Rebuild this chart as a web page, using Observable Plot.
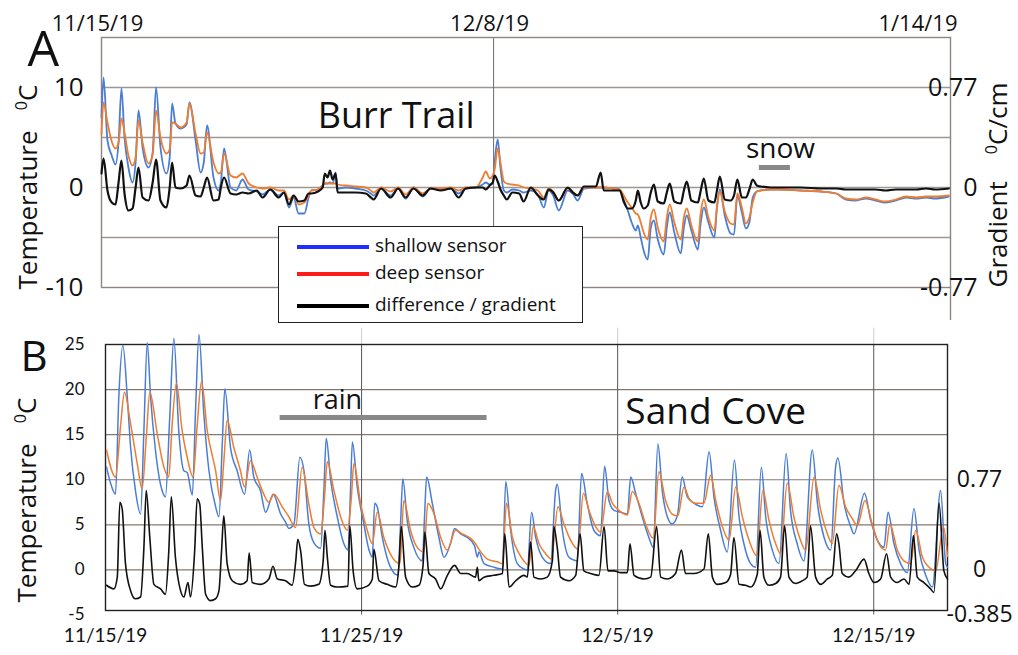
<!DOCTYPE html>
<html>
<head>
<meta charset="utf-8">
<script src="https://cdn.jsdelivr.net/npm/d3@7"></script>
<script src="https://cdn.jsdelivr.net/npm/@observablehq/plot@0.6"></script>
<style>
html,body{margin:0;padding:0;background:#fff;}
#wrap{position:relative;width:1018px;height:655px;overflow:hidden;font-family:"Open Sans",sans-serif;color:#111;}
#wrap svg{position:absolute;left:0;overflow:visible;}
.ylab{position:absolute;transform:translate(-50%,-50%) rotate(-90deg);white-space:nowrap;font-size:26px;line-height:1;}
.ylab sup{font-size:0.62em;vertical-align:0.6em;line-height:0;}
#legend{position:absolute;left:278px;top:226px;width:305px;height:97px;box-sizing:border-box;border:1.5px solid #222;background:#fff;z-index:5;}
.lgsw{position:absolute;left:18px;width:72px;height:3.5px;}
.lgtx{position:absolute;left:96px;font-size:19px;line-height:19px;white-space:nowrap;}
</style>
</head>
<body>
<div id="wrap"></div>
<script>
// ---------- Panel A: Burr Trail (x = days since 11/15/19, y = °C) ----------
const aShallow = [[0,7.0],[0.12,11.0],[0.35,4.7],[0.6,3.2],[0.82,2.3],[1.0,4.5],[1.17,9.9],[1.35,5.0],[1.58,2.0],[1.82,0.5],[2.0,2.5],[2.17,7.7],[2.41,4.0],[2.76,2.0],[3.0,3.5],[3.2,10.0],[3.46,4.0],[3.81,1.4],[4.0,3.0],[4.14,8.4],[4.34,6.4],[4.64,5.9],[4.99,6.3],[5.16,8.5],[5.52,4.7],[5.81,1.5],[6.0,2.5],[6.19,6.2],[6.57,1.0],[6.87,-0.3],[7.0,0.5],[7.19,3.9],[7.57,0.0],[7.9,-0.3],[8.27,0.8],[8.63,-0.2],[9.1,-0.4],[9.45,-0.7],[9.9,-0.2],[10.4,-0.8],[10.7,-0.5],[11.0,-2.0],[11.27,-1.0],[11.56,-2.6],[11.9,-2.6],[12.15,-1.0],[12.3,-0.3],[12.7,-0.2],[12.97,0.2],[13.1,0.4],[13.26,0.4],[13.4,0.5],[13.56,0.4],[13.73,1.5],[13.85,-0.1],[14.3,0.0],[14.9,-0.1],[15.5,-0.3],[15.8,-0.6],[15.96,-0.8],[16.4,-0.1],[16.96,-0.8],[17.4,-0.1],[17.84,-1.1],[18.3,0.0],[18.84,-0.9],[19.3,-0.1],[19.9,-0.2],[20.5,-0.1],[20.95,-0.6],[21.36,-0.1],[21.95,0.0],[22.36,0.3],[22.54,0.5],[22.77,0.3],[22.95,0.5],[23.06,2.5],[23.24,4.8],[23.4,2.0],[23.6,-0.3],[23.77,-0.5],[24.1,-0.2],[24.5,-0.3],[24.76,-0.5],[25.18,-0.3],[25.6,-0.7],[25.94,-2.0],[26.23,-0.3],[26.5,-0.8],[26.82,-2.3],[27.35,-0.3],[27.64,-0.6],[27.93,-1.3],[28.3,-0.1],[29.0,0.0],[29.28,0.0],[29.46,0.0],[30.0,-0.1],[30.4,-0.2],[30.63,-1.2],[30.87,-2.3],[31.1,-3.5],[31.34,-4.3],[31.46,-3.8],[31.63,-5.0],[31.8,-6.3],[32.04,-7.2],[32.22,-4.0],[32.4,-3.3],[32.63,-5.2],[32.98,-6.7],[33.16,-4.0],[33.33,-2.5],[33.6,-4.5],[33.98,-6.6],[34.16,-4.0],[34.33,-2.8],[34.6,-4.3],[34.98,-6.2],[35.15,-3.5],[35.33,-2.0],[35.6,-3.5],[35.95,-5.0],[36.1,-2.0],[36.27,-0.2],[36.56,-2.8],[36.9,-4.6],[37.1,-4.7],[37.3,-0.8],[37.56,-2.5],[37.8,-4.1],[38.0,-3.5],[38.2,-1.0],[38.44,-0.4],[38.67,-0.3],[39.26,-0.2],[39.85,-0.2],[41.0,-0.3],[42.2,-0.4],[43.1,-0.6],[43.66,-1.2],[44.25,-1.3],[44.84,-1.1],[45.4,-1.3],[46.0,-1.5],[46.6,-1.3],[47.2,-1.0],[47.8,-1.1],[48.36,-1.0],[48.9,-1.1],[49.7,-0.9]];
const aDeep = [[0,5.3],[0.12,8.5],[0.35,6.5],[0.6,4.6],[0.82,3.9],[1.0,4.5],[1.17,6.9],[1.35,5.5],[1.58,3.2],[1.82,2.2],[2.0,3.0],[2.17,6.7],[2.41,4.5],[2.76,2.4],[3.0,3.3],[3.2,7.7],[3.46,5.0],[3.81,3.4],[4.0,3.8],[4.14,6.5],[4.34,6.4],[4.64,6.0],[4.99,6.5],[5.16,8.4],[5.52,5.4],[5.81,3.4],[6.0,3.5],[6.19,5.5],[6.57,2.5],[6.87,1.4],[7.0,1.5],[7.19,3.4],[7.57,1.2],[7.9,1.0],[8.27,1.4],[8.63,0.4],[9.1,0.0],[9.45,-0.1],[9.9,0.0],[10.4,-0.3],[10.7,-0.3],[11.0,-1.2],[11.27,-0.8],[11.56,-1.7],[11.9,-1.5],[12.15,-0.8],[12.3,-0.3],[12.7,-0.2],[12.97,0.2],[13.1,0.4],[13.26,0.4],[13.4,0.4],[13.56,0.4],[13.73,0.4],[13.85,0.3],[14.3,0.2],[14.9,0.1],[15.5,0.0],[15.8,-0.3],[15.96,-0.5],[16.4,0.0],[16.96,-0.4],[17.4,0.0],[17.84,-0.7],[18.3,0.0],[18.84,-0.6],[19.3,-0.1],[19.9,-0.1],[20.5,0.0],[20.95,-0.3],[21.36,0.0],[21.95,0.0],[22.36,1.0],[22.54,1.6],[22.77,0.9],[22.95,1.2],[23.06,1.8],[23.24,3.9],[23.4,2.5],[23.6,0.6],[23.77,0.4],[24.1,0.3],[24.5,0.2],[24.76,0.0],[25.18,-0.1],[25.6,-0.3],[25.94,-1.0],[26.23,-0.1],[26.5,-0.4],[26.82,-1.3],[27.35,-0.1],[27.64,-0.4],[27.93,-0.8],[28.3,0.0],[29.0,0.0],[29.28,0.0],[29.46,0.0],[30.0,-0.1],[30.4,-0.2],[30.63,-0.8],[30.87,-1.5],[31.1,-2.0],[31.34,-2.6],[31.46,-2.7],[31.63,-3.5],[31.8,-4.5],[32.04,-5.2],[32.22,-3.0],[32.4,-2.2],[32.63,-4.0],[32.98,-5.4],[33.16,-3.0],[33.33,-1.7],[33.6,-3.5],[33.98,-5.2],[34.16,-3.0],[34.33,-2.1],[34.6,-3.8],[34.98,-5.4],[35.15,-2.5],[35.33,-1.2],[35.6,-3.0],[35.95,-4.3],[36.1,-2.0],[36.27,-0.4],[36.56,-2.4],[36.9,-3.6],[37.1,-3.7],[37.3,-0.6],[37.56,-2.0],[37.8,-3.6],[38.0,-3.0],[38.2,-1.5],[38.44,-0.4],[38.67,-0.3],[39.26,-0.2],[39.85,-0.2],[41.0,-0.3],[42.2,-0.4],[43.1,-0.6],[43.66,-1.1],[44.25,-1.2],[44.84,-1.0],[45.4,-1.2],[46.0,-1.4],[46.6,-1.2],[47.2,-0.9],[47.8,-1.0],[48.36,-0.9],[48.9,-0.9],[49.7,-0.8]];
const aDiff = [[0,1.4],[0.12,2.9],[0.35,-0.3],[0.6,-1.5],[0.82,-1.7],[1.0,0.5],[1.17,2.7],[1.35,-0.6],[1.58,-2.3],[1.82,-2.1],[2.0,0.0],[2.17,2.0],[2.41,-1.0],[2.76,-1.3],[3.0,0.5],[3.2,2.8],[3.46,-1.3],[3.81,-2.0],[4.0,0.0],[4.14,2.5],[4.34,0.0],[4.64,-0.1],[4.99,0.2],[5.16,1.2],[5.52,-0.8],[5.81,-0.9],[6.0,0.0],[6.19,1.0],[6.57,-1.3],[6.87,-1.2],[7.0,0.0],[7.19,1.0],[7.57,-0.6],[7.9,-0.7],[8.27,-0.5],[8.63,-0.6],[9.1,-0.3],[9.45,-1.0],[9.9,-0.2],[10.4,-1.0],[10.7,-0.5],[11.0,-1.7],[11.27,-0.8],[11.56,-1.4],[11.9,-1.3],[12.15,-0.6],[12.3,-0.6],[12.7,-0.4],[12.97,0.0],[13.1,1.4],[13.26,1.0],[13.4,1.7],[13.56,0.8],[13.73,1.4],[13.85,-0.5],[14.3,-0.5],[14.9,-0.5],[15.5,-0.6],[15.8,-1.0],[15.96,-1.2],[16.4,-0.1],[16.96,-1.0],[17.4,-0.1],[17.84,-1.0],[18.3,-0.1],[18.84,-0.8],[19.3,-0.1],[19.9,-0.3],[20.5,-0.1],[20.95,-1.0],[21.36,-0.1],[21.95,0.0],[22.36,0.0],[22.54,-0.2],[22.77,0.2],[22.95,0.5],[23.06,1.2],[23.24,0.6],[23.4,-0.2],[23.6,-0.8],[23.77,-1.2],[24.1,-0.5],[24.5,-0.6],[24.76,-1.4],[25.18,0.0],[25.6,-0.8],[25.94,-1.2],[26.23,-0.2],[26.5,-0.5],[26.82,-1.3],[27.35,0.0],[27.64,-0.5],[27.93,-0.8],[28.3,0.1],[29.0,0.1],[29.28,1.5],[29.46,-0.3],[30.0,-0.3],[30.4,-0.3],[30.63,-1.4],[30.87,-2.1],[31.1,-2.1],[31.34,-1.3],[31.46,-0.3],[31.63,-1.5],[31.8,-2.1],[32.04,-1.8],[32.22,-0.5],[32.4,0.3],[32.63,-1.4],[32.98,-1.6],[33.16,-0.5],[33.33,0.4],[33.6,-1.4],[33.98,-1.6],[34.16,-0.3],[34.33,0.6],[34.6,-1.3],[34.98,-1.5],[35.15,-0.3],[35.33,0.9],[35.6,-1.3],[35.95,-1.5],[36.1,-0.3],[36.27,1.1],[36.56,-1.2],[36.9,-1.3],[37.1,-0.8],[37.3,0.8],[37.56,-1.0],[37.8,-1.0],[38.0,-0.2],[38.2,0.8],[38.44,0.2],[38.67,0.1],[39.26,0.0],[39.85,0.0],[41.0,0.0],[42.2,-0.1],[43.1,-0.1],[43.66,-0.2],[44.25,-0.2],[44.84,-0.2],[45.4,-0.2],[46.0,-0.3],[46.6,-0.2],[47.2,-0.2],[47.8,-0.2],[48.36,-0.1],[48.9,-0.2],[49.7,-0.1]];
const aDomainDays = [0, 49.8];
const aLeftTicks = [10, 0, -10];
const aRightTicks = [0.77, 0, -0.77];      // gradient, °C/cm
const aGridY = [10, 5, 0, -5];
const aVLines = [23];
const aTopTickDays = [0, 23, 49.8];
const aTopTickLabels = ["11/15/19", "12/8/19", "1/14/19"];
const aTitle = "Burr Trail";
const aSnow = {label: "snow", day: 37.8, t: 3.0, bar: [38.56, 40.38], barT: 2.0};

// ---------- Panel B: Sand Cove ----------
const bShallow = [[0.04,11.4],[0.2,9.6],[0.39,8.4],[0.52,19.2],[0.68,24.9],[0.85,19.2],[0.98,13.6],[1.17,8.8],[1.37,6.2],[1.5,15.5],[1.63,25.2],[1.76,19.2],[1.95,13.3],[2.21,8.8],[2.34,8.1],[2.51,17.0],[2.67,25.7],[2.86,15.5],[3.06,11.0],[3.19,10.8],[3.39,8.3],[3.52,18.0],[3.65,26.1],[3.84,17.3],[4.04,11.0],[4.3,7.0],[4.43,5.9],[4.56,14.0],[4.66,20.1],[4.88,13.6],[5.14,11.0],[5.43,8.4],[5.63,13.3],[5.79,10.3],[6.05,8.8],[6.25,6.4],[6.55,8.4],[6.84,6.2],[7.03,5.3],[7.16,4.6],[7.36,5.1],[7.59,12.5],[7.75,11.0],[7.94,5.1],[8.14,3.0],[8.4,2.4],[8.53,9.0],[8.62,14.6],[8.79,10.0],[9.05,5.9],[9.31,2.9],[9.47,2.2],[9.57,9.0],[9.64,14.2],[9.83,9.2],[10.09,5.1],[10.29,2.2],[10.42,1.4],[10.51,7.4],[10.61,7.0],[10.81,3.6],[11.07,0.7],[11.42,-0.6],[11.52,5.0],[11.61,10.1],[11.78,5.5],[12.04,2.5],[12.37,1.0],[12.46,6.0],[12.54,10.3],[12.76,7.4],[13.02,3.6],[13.22,1.4],[13.48,3.0],[13.63,4.6],[13.87,4.0],[14.13,3.6],[14.41,2.7],[14.52,1.4],[14.58,2.0],[14.78,0.7],[15.17,0.3],[15.5,0.1],[15.63,9.8],[15.82,4.4],[16.08,0.7],[16.34,0.1],[16.47,0.0],[16.64,6.4],[16.8,3.6],[17.06,1.4],[17.38,0.7],[17.58,8.9],[17.64,9.5],[17.84,4.4],[18.1,1.4],[18.42,1.0],[18.59,10.7],[18.81,7.4],[19.07,4.4],[19.33,3.8],[19.49,11.5],[19.66,7.7],[19.86,6.6],[20.12,6.4],[20.38,6.2],[20.51,10.3],[20.7,8.5],[20.96,5.9],[21.22,3.6],[21.39,2.5],[21.57,14.0],[21.74,8.8],[21.94,5.9],[22.13,5.1],[22.33,6.0],[22.52,10.3],[22.72,8.1],[22.98,7.4],[23.31,7.0],[23.57,13.1],[23.76,8.1],[24.02,4.4],[24.28,2.0],[24.56,12.2],[24.74,5.9],[24.93,2.9],[25.19,0.7],[25.39,0.3],[25.61,11.4],[25.78,5.9],[26.04,2.2],[26.3,0.7],[26.58,12.9],[26.75,6.6],[27.01,2.9],[27.27,1.0],[27.6,13.3],[27.8,7.4],[28.06,3.6],[28.32,2.2],[28.51,11.4],[28.6,12.4],[28.84,7.4],[29.1,4.8],[29.23,4.0],[29.64,8.5],[29.88,5.5],[30.14,3.3],[30.4,2.5],[30.56,6.4],[30.79,2.9],[31.05,0.7],[31.31,-0.3],[31.57,6.8],[31.77,2.2],[32.03,-0.6],[32.29,-1.9],[32.61,8.8],[32.81,0.7],[32.88,0.3]];
const bDeep = [[0.04,13.3],[0.39,10.3],[0.59,16.0],[0.74,19.7],[0.98,16.2],[1.24,11.8],[1.43,9.0],[1.6,15.0],[1.73,19.7],[2.02,15.1],[2.28,11.4],[2.47,10.3],[2.6,16.0],[2.77,20.7],[2.99,15.5],[3.19,12.5],[3.42,10.3],[3.58,16.0],[3.75,20.9],[3.97,15.5],[4.3,11.0],[4.49,7.7],[4.62,12.0],[4.75,16.6],[5.01,13.6],[5.27,11.0],[5.43,9.2],[5.66,12.1],[5.92,10.3],[6.18,8.4],[6.38,7.5],[6.58,8.4],[6.9,7.0],[7.16,5.9],[7.42,4.7],[7.68,11.4],[7.94,7.3],[8.14,4.7],[8.4,4.0],[8.55,8.0],[8.66,12.0],[8.92,8.8],[9.18,5.9],[9.44,4.4],[9.6,8.0],[9.7,11.8],[9.96,7.4],[10.22,4.4],[10.42,2.9],[10.61,6.4],[10.87,3.6],[11.2,1.4],[11.5,0.7],[11.65,7.7],[11.91,4.4],[12.17,2.5],[12.43,2.0],[12.59,7.4],[12.83,6.2],[13.09,3.6],[13.35,2.2],[13.67,4.4],[13.93,4.0],[14.26,3.5],[14.45,2.9],[14.58,2.3],[14.91,1.2],[15.3,0.9],[15.5,0.7],[15.66,7.4],[15.89,3.6],[16.15,1.8],[16.34,1.0],[16.54,0.5],[16.7,4.8],[16.93,2.9],[17.19,1.8],[17.41,1.2],[17.67,7.0],[17.9,5.1],[18.16,3.3],[18.45,2.3],[18.66,8.5],[18.88,6.6],[19.14,4.8],[19.33,4.2],[19.6,8.7],[19.79,7.4],[20.05,6.6],[20.38,6.1],[20.57,8.7],[20.83,7.4],[21.09,5.1],[21.39,3.5],[21.61,10.9],[21.87,7.7],[22.13,6.2],[22.35,6.0],[22.59,9.2],[22.79,7.9],[23.05,7.4],[23.37,7.4],[23.63,10.5],[23.83,7.7],[24.09,4.8],[24.35,3.3],[24.61,9.2],[24.87,5.9],[25.13,3.3],[25.43,1.6],[25.67,8.8],[25.91,5.5],[26.17,2.9],[26.36,1.8],[26.62,9.6],[26.88,5.9],[27.14,3.3],[27.34,2.2],[27.67,10.3],[27.93,6.6],[28.19,4.0],[28.38,2.9],[28.64,9.4],[28.9,7.0],[29.16,5.7],[29.36,4.9],[29.66,7.7],[29.94,5.1],[30.2,2.9],[30.46,2.2],[30.63,5.1],[30.92,2.2],[31.18,1.0],[31.44,0.7],[31.64,4.4],[31.9,1.4],[32.16,0.3],[32.42,-0.1],[32.72,4.8],[32.88,1.5]];
const bDiff = [[0.04,-1.7],[0.33,-2.1],[0.46,-0.8],[0.56,7.5],[0.65,6.8],[0.78,0.7],[0.98,-2.3],[1.17,-3.2],[1.37,-3.0],[1.5,2.5],[1.59,8.8],[1.73,3.6],[1.89,-1.6],[2.15,-2.1],[2.34,-2.7],[2.47,2.0],[2.57,8.1],[2.73,1.4],[2.93,-2.3],[3.06,-3.0],[3.22,-1.4],[3.32,-3.0],[3.48,2.0],[3.58,7.9],[3.68,7.3],[3.78,2.5],[3.91,-2.7],[4.1,-3.4],[4.3,-3.2],[4.43,-2.3],[4.53,2.0],[4.62,6.0],[4.75,0.7],[4.95,-1.2],[5.27,-1.6],[5.53,-1.2],[5.61,1.9],[5.73,-1.4],[6.05,-1.6],[6.38,-1.0],[6.54,0.4],[6.71,-1.0],[7.03,-1.2],[7.29,-1.7],[7.43,1.0],[7.51,3.4],[7.62,2.1],[7.77,-1.6],[8.01,-1.8],[8.33,-1.6],[8.5,1.0],[8.57,4.4],[8.66,1.5],[8.79,-1.7],[9.05,-1.9],[9.47,-1.8],[9.54,4.9],[9.67,-0.1],[9.83,-2.1],[10.22,-1.8],[10.42,-1.0],[10.48,2.3],[10.68,-1.2],[11.0,-1.6],[11.33,-1.9],[11.46,0.5],[11.55,4.8],[11.72,-0.8],[11.98,-1.9],[12.24,-1.7],[12.4,0.5],[12.47,4.2],[12.63,-0.4],[12.89,-1.0],[13.09,-2.1],[13.35,-0.6],[13.63,0.5],[13.87,-0.4],[14.13,-0.4],[14.45,-0.8],[14.52,0.3],[14.58,-1.2],[14.78,-0.8],[15.17,-0.6],[15.5,-0.4],[15.59,4.0],[15.76,-1.9],[16.02,-1.2],[16.34,-0.6],[16.47,-0.8],[16.6,3.1],[16.73,-0.8],[16.99,-1.0],[17.25,-0.8],[17.45,1.0],[17.51,4.8],[17.64,2.5],[17.77,-0.8],[18.1,-1.2],[18.36,-0.6],[18.53,4.0],[18.68,-0.1],[18.94,-0.4],[19.27,-0.6],[19.47,4.8],[19.62,-0.1],[19.86,-0.1],[20.12,-0.3],[20.38,-0.3],[20.48,2.9],[20.64,-0.6],[21.03,-1.0],[21.29,-0.8],[21.52,4.8],[21.68,-0.8],[21.94,-1.0],[22.26,-0.4],[22.49,2.2],[22.65,-0.4],[22.98,-0.4],[23.37,0.1],[23.54,4.0],[23.7,-0.8],[23.89,-1.6],[24.22,-1.4],[24.41,-0.5],[24.54,3.6],[24.74,-1.6],[24.99,-1.7],[25.19,-1.9],[25.45,-0.5],[25.56,4.4],[25.71,-0.8],[25.91,-1.7],[26.17,-1.5],[26.36,-0.8],[26.52,4.9],[26.69,-0.8],[26.95,-1.5],[27.21,-1.2],[27.4,-0.8],[27.53,4.9],[27.73,-0.8],[27.93,-1.6],[28.19,-1.0],[28.38,-0.6],[28.55,4.0],[28.64,2.9],[28.77,-0.4],[29.03,-0.8],[29.29,-0.1],[29.62,1.2],[29.81,-0.4],[30.01,-1.4],[30.27,-1.0],[30.5,1.8],[30.66,-0.8],[30.92,-1.4],[31.18,-1.0],[31.38,-1.6],[31.55,3.8],[31.7,-0.8],[31.96,-1.4],[32.22,-2.1],[32.35,-2.5],[32.55,7.4],[32.74,-0.1],[32.88,-1.0]];
const bDomainDays = [0, 32.88];
const bLeftTicks = [25, 20, 15, 10, 5, 0, -5];
const bRightTicks = [0.77, 0, -0.385];     // gradient, °C/cm
const bGridY = [20, 15, 10, 5, 0];
const bVLines = [10, 20, 30];
const bBottomTickDays = [0, 10, 20, 30];
const bBottomTickLabels = ["11/15/19", "11/25/19", "12/5/19", "12/15/19"];
const bTitle = "Sand Cove";
const bRain = {label: "rain", day: 8.09, t: 17.9, bar: [6.8, 14.88], barT: 16.9};

const gradPerDegree = 0.077;                 // 0.77 °C/cm ↔ 10 °C
const legendLabels = ["shallow sensor", "deep sensor", "difference / gradient"];
const legendColors = ["#1f2bff", "#ff1a1a", "#000000"];

// ---------- drawing ----------
const W = 1018;
const font = "'Open Sans', sans-serif";
const cBlue = "#4a7dd6", cOrange = "#ed7d31", cBlack = "#111";
const X = d => d[0], Y = d => d[1];
const curve = "monotone-x";

const plotA = Plot.plot({
  width: W, height: 330,
  marginTop: 37, marginBottom: 43, marginLeft: 101, marginRight: 68,
  x: {domain: aDomainDays, axis: null},
  y: {domain: [-10, 15], axis: null},
  style: {fontFamily: font, background: "transparent", color: "#111", overflow: "visible"},
  marks: [
    Plot.ruleY(aGridY, {stroke: "#9d9793", strokeWidth: 1.3}),
    Plot.ruleX(aVLines, {stroke: "#6b6b6b", strokeWidth: 1}),
    Plot.ruleX([aDomainDays[1]], {y1: () => -10, y2: () => -13.3, stroke: "#8e8580", strokeWidth: 1.4}),
    Plot.frame({stroke: "#8e8580", strokeWidth: 1.4}),
    Plot.line(aShallow, {x: X, y: Y, stroke: cBlue, strokeWidth: 1.8, curve}),
    Plot.line(aDeep, {x: X, y: Y, stroke: cOrange, strokeWidth: 1.8, curve}),
    Plot.line(aDiff, {x: X, y: Y, stroke: cBlack, strokeWidth: 2.2, curve}),
    Plot.text(aLeftTicks, {frameAnchor: "left", y: d => d, text: d => String(d), dx: -18, textAnchor: "end", fontSize: 26}),
    Plot.text(aRightTicks, {frameAnchor: "right", y: g => g / gradPerDegree, text: g => String(g), dx: 27, textAnchor: "end", fontSize: 25}),
    Plot.text(aTopTickDays.slice(0, 2), {frameAnchor: "top", x: d => d, text: (d, i) => aTopTickLabels[i], dx: -4, dy: -7, lineAnchor: "bottom", fontSize: 22}),
    Plot.text(aTopTickDays.slice(2), {frameAnchor: "top", x: d => d, text: () => aTopTickLabels[2], dx: 7, dy: -7, textAnchor: "end", lineAnchor: "bottom", fontSize: 22}),
    Plot.text([aTitle], {x: () => 12.68, y: () => 6.0, text: d => d, textAnchor: "start", lineAnchor: "bottom", fontSize: 36}),
    Plot.text([aSnow], {x: "day", y: "t", text: "label", textAnchor: "start", lineAnchor: "bottom", fontSize: 28}),
    Plot.link([aSnow], {x1: d => d.bar[0], x2: d => d.bar[1], y1: "barT", y2: "barT", stroke: "#888", strokeWidth: 5}),
    Plot.text(["A"], {frameAnchor: "top-left", text: d => d, dx: -74, dy: 28, textAnchor: "start", lineAnchor: "bottom", fontSize: 50})
  ]
});

const plotB = Plot.plot({
  width: W, height: 325,
  marginTop: 14, marginBottom: 45, marginLeft: 105, marginRight: 71,
  x: {domain: bDomainDays, axis: null},
  y: {domain: [-4.5, 25], axis: null},
  style: {fontFamily: font, background: "transparent", color: "#111", overflow: "visible"},
  marks: [
    Plot.ruleY(bGridY, {stroke: "#85796f", strokeWidth: 1.2}),
    Plot.ruleX(bVLines, {y1: () => 25, y2: () => 26.8, stroke: "#ccc", strokeWidth: 1}),
    Plot.ruleX(bVLines, {y1: () => -5.0, y2: () => 25, stroke: "#555", strokeWidth: 1}),
    Plot.frame({stroke: "#222", strokeWidth: 1.4}),
    Plot.line(bShallow, {x: X, y: Y, stroke: cBlue, strokeWidth: 1.5, curve}),
    Plot.line(bDeep, {x: X, y: Y, stroke: cOrange, strokeWidth: 1.5, curve}),
    Plot.line(bDiff, {x: X, y: Y, stroke: cBlack, strokeWidth: 1.6, curve}),
    Plot.text(bLeftTicks, {frameAnchor: "left", y: d => d, text: d => String(d), dx: -21, textAnchor: "end", fontSize: 17, fontFamily: "Lato"}),
    Plot.text(bRightTicks, {frameAnchor: "right", y: g => g / gradPerDegree, text: g => String(g), dx: 32, textAnchor: "middle", fontSize: 23}),
    Plot.text(bBottomTickDays, {frameAnchor: "bottom", x: d => d, text: (d, i) => bBottomTickLabels[i], dy: 31, fontSize: 19, fontFamily: "Lato"}),
    Plot.text([bTitle], {x: () => 20.3, y: () => 16.2, text: d => d, textAnchor: "start", lineAnchor: "bottom", fontSize: 37}),
    Plot.text([bRain], {x: "day", y: "t", text: "label", textAnchor: "start", lineAnchor: "bottom", fontSize: 27}),
    Plot.link([bRain], {x1: d => d.bar[0], x2: d => d.bar[1], y1: "barT", y2: "barT", stroke: "#888", strokeWidth: 5}),
    Plot.text(["B"], {frameAnchor: "top-left", text: d => d, dx: -85, dy: 26, textAnchor: "start", lineAnchor: "bottom", fontSize: 42})
  ]
});

const wrap = document.getElementById("wrap");
plotA.style.top = "0px";
plotB.style.top = "330px";
wrap.appendChild(plotA);
wrap.appendChild(plotB);

function ylab(html, left, top) {
  const d = document.createElement("div");
  d.className = "ylab";
  d.style.left = left + "px";
  d.style.top = top + "px";
  d.innerHTML = html;
  wrap.appendChild(d);
}
ylab("Temperature&nbsp;&nbsp;&nbsp;<sup>0</sup>C", 27, 187);
ylab("Temperature&nbsp;&nbsp;&nbsp;<sup>0</sup>C", 26, 500);
ylab("Gradient&nbsp;&nbsp;&nbsp;&nbsp;<sup>0</sup>C/cm", 997, 185);

const leg = document.createElement("div");
leg.id = "legend";
const rowsY = [20, 47, 79];
legendLabels.forEach((lab, i) => {
  const sw = document.createElement("div");
  sw.className = "lgsw";
  sw.style.top = (rowsY[i] - 2) + "px";
  sw.style.background = legendColors[i];
  leg.appendChild(sw);
  const tx = document.createElement("div");
  tx.className = "lgtx";
  tx.style.top = (rowsY[i] - 11) + "px";
  tx.textContent = lab;
  leg.appendChild(tx);
});
wrap.appendChild(leg);
</script>
</body>
</html>
